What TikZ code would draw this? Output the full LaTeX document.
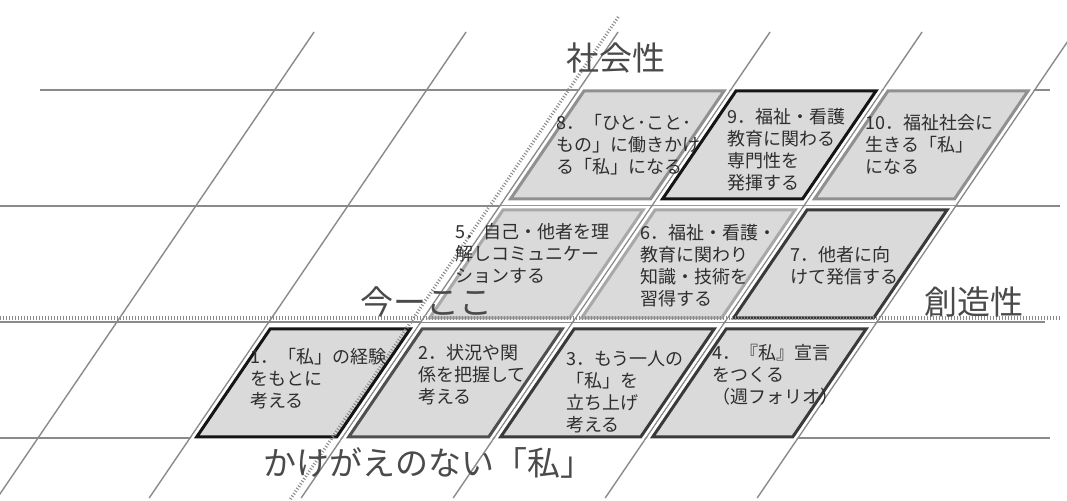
\documentclass[tikz,border=0pt]{standalone}
\usepackage{fontspec}
\setmainfont{Noto Sans CJK JP}

\definecolor{gridgray}{HTML}{8A8A8A}
\definecolor{cellfill}{HTML}{DADADA}
\definecolor{textgray}{HTML}{2E2E2E}
\definecolor{labelgray}{HTML}{4A4A4A}
\definecolor{edgeA}{HTML}{151515}
\definecolor{edgeB}{HTML}{505050}
\definecolor{edgeC}{HTML}{3A3A3A}
\definecolor{edgeD}{HTML}{A8A8A8}
\definecolor{edgeE}{HTML}{909090}

\begin{document}
\begin{tikzpicture}[x=0.5pt,y=-0.5pt]
		\tikzstyle{grid_line} = [draw=gridgray, line width=0.7pt];
		\tikzstyle{now_line} = [draw=gridgray, line width=1.6pt, dash pattern=on 0.5pt off 1pt];
		\tikzstyle{halo} = [draw=white, line width=4pt];
		\tikzstyle{cell_block} = [fill=cellfill, line width=1.5pt];
		\tikzstyle{cell_text} = [inner sep=0, anchor=north west, align=left, text=textgray, font=\fontsize{9}{11}\selectfont];
		\tikzstyle{axis_text} = [inner sep=0, text=labelgray, font=\fontsize{16.5}{18}\selectfont];

		\clip (0,0) rectangle (1067,501);
		\fill[white] (0,0) rectangle (1067,501);

		\draw[grid_line] (40,90) -- (1050,90);
		\draw[grid_line] (0,206) -- (1060,206);
		\draw[grid_line] (0,322) -- (1045,322);
		\draw[grid_line] (0,438) -- (1050,438);

		\begin{scope}[shift={(0,438)}, xslant=0.68]
			\foreach \u in {38,190,...,798}
				\draw[grid_line] (\u,-406) -- (\u,60);

			\foreach \c/\r/\bc in {1/0/edgeA, 2/0/edgeB, 3/0/edgeC, 4/0/edgeC,
				2/1/edgeD, 3/1/edgeD, 4/1/edgeC, 2/2/edgeE, 3/2/edgeA, 4/2/edgeE}{
				\pgfmathsetmacro{\ul}{44+152*\c}
				\pgfmathsetmacro{\ur}{184+152*\c}
				\pgfmathsetmacro{\vt}{-109-119*\r}
				\pgfmathsetmacro{\vb}{-1-119*\r}
				\draw[halo] (\ul,\vt) -- (\ur,\vt) -- (\ur,\vb) -- (\ul,\vb) -- cycle;
				\draw[cell_block, draw=\bc] (\ul,\vt) -- (\ur,\vt) -- (\ur,\vb) -- (\ul,\vb) -- cycle;
			}

			\draw[now_line] (332,-421) -- (332,62);
		\end{scope}
		\draw[now_line] (0,318) -- (1060,318);

		\node[cell_text] (s1) at (250,348) {1．「私」の経験\\をもとに\\考える};
		\node[cell_text] (s2) at (418,344) {2．状況や関\\係を把握して\\考える};
		\node[cell_text] (s3) at (566,351) {3．もう一人の\\「私」を\\立ち上げ\\考える};
		\node[cell_text] (s4) at (712,344) {4．『私』宣言\\をつくる\\（週フォリオ）};
		\node[cell_text] (s5) at (455,223) {5．自己・他者を理\\解しコミュニケー\\ションする};
		\node[cell_text] (s6) at (640,224) {6．福祉・看護・\\教育に関わり\\知識・技術を\\習得する};
		\node[cell_text] (s7) at (790,246) {7．他者に向\\けて発信する};
		\node[cell_text] (s8) at (556,114) {8．「ひと･こと･\\もの」に働きかけ\\る「私」になる};
		\node[cell_text] (s9) at (727,108) {9．福祉・看護\\教育に関わる\\専門性を\\発揮する};
		\node[cell_text] (s10) at (865,114) {10．福祉社会に\\生きる「私」\\になる};

		\node[axis_text] (social) at (616,58) {社会性};
		\node[axis_text] (now) at (426,302) {今ーここ};
		\node[axis_text] (creative) at (974,302) {創造性};
		\node[axis_text] (self) at (428,463) {かけがえのない「私」};
\end{tikzpicture}
\end{document}
